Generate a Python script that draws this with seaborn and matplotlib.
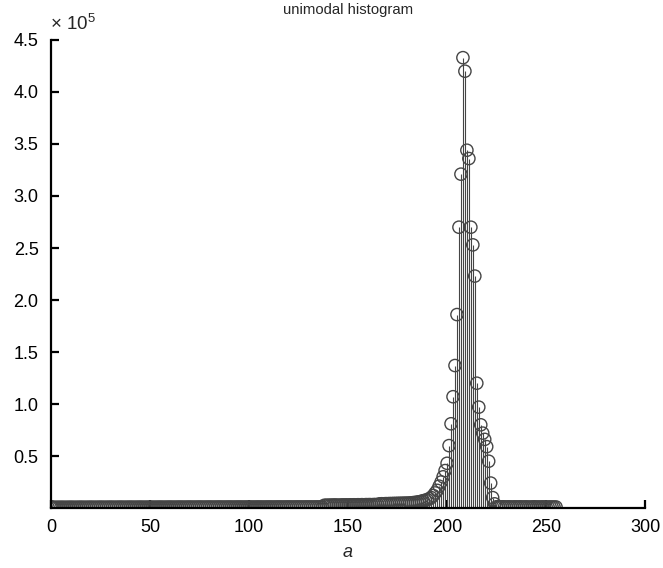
import numpy as np
import pandas as pd
import matplotlib
matplotlib.use("Agg")
import matplotlib.pyplot as plt
import seaborn as sns

# histogram bins (grey level a) and counts
levels = list(range(256))
counts = [
    1200, 700, 650, 720, 690, 740, 710, 680, 700, 730,
    760, 720, 690, 710, 740, 770, 730, 700, 720, 750,
    780, 740, 710, 730, 760, 790, 750, 720, 740, 770,
    800, 760, 730, 750, 780, 810, 770, 740, 760, 790,
    820, 780, 750, 770, 800, 830, 790, 760, 780, 810,
    840, 800, 770, 790, 820, 850, 810, 780, 800, 830,
    860, 820, 790, 810, 840, 870, 830, 800, 820, 850,
    880, 840, 810, 830, 860, 890, 850, 820, 840, 870,
    900, 860, 830, 850, 880, 910, 870, 840, 860, 890,
    920, 880, 850, 870, 900, 930, 890, 860, 880, 910,
    940, 900, 870, 890, 920, 950, 910, 880, 900, 930,
    960, 920, 890, 910, 940, 970, 930, 900, 920, 950,
    980, 940, 910, 930, 960, 990, 950, 920, 940, 970,
    1000, 960, 930, 950, 980, 1010, 970, 940,
    # 138-180
    2600, 2700, 2650, 2800, 2750, 2900, 2850, 2700, 2800, 2950,
    2900, 3000, 2850, 3050, 3000, 3100, 2950, 3150, 3100, 3200,
    3050, 3250, 3200, 3300, 3150, 3350, 3300, 3400,
    4000, 4100, 4050, 4200, 4150, 4300, 4250, 4400, 4350, 4500,
    4450, 4600, 4550, 4700, 4650,
    # 181-224
    4800, 5000, 5200, 5400, 5700, 6000, 6500, 7000, 7500, 8000,
    9000, 10000, 12000, 14500, 17000, 21000, 25000, 30000, 36000, 43000,
    60000, 81000, 107000, 137000, 186000, 270000, 321000, 433000, 420000, 344000,
    336000, 270000, 253000, 223000, 120000, 97000, 80000, 72000, 66000, 59000,
    45000, 24000, 10000, 4000,
    # 225-255
    1200, 1100, 1000, 1150, 1050, 950, 1100, 1000, 900, 1050,
    1000, 950, 1100, 900, 1000, 1050, 950, 900, 1000, 1100,
    950, 1000, 900, 1050, 1000, 950, 900, 1000, 950, 900,
    1000,
]

xticks = [0, 50, 100, 150, 200, 250, 300]
yticks = [50000, 100000, 150000, 200000, 250000, 300000, 350000, 400000, 450000]
ytick_labels = ["0.5", "1.0", "1.5", "2.0", "2.5", "3.0", "3.5", "4.0", "4.5"]

df = pd.DataFrame({"a": levels, "count": counts})

sns.set_style("ticks")
plt.rcParams["font.family"] = ["Liberation Sans", "DejaVu Sans"]
plt.rcParams["mathtext.fontset"] = "custom"
plt.rcParams["mathtext.rm"] = "Liberation Sans"

fig = plt.figure(figsize=(6.63, 5.68), dpi=100)
ax = fig.add_axes([0.077, 0.1056, 0.896, 0.824])

grey = "#454545"
ax.vlines(df["a"], 0, df["count"], color=grey, linewidth=0.8, zorder=1)
sns.scatterplot(data=df, x="a", y="count", ax=ax, marker="o", s=78,
                facecolors="none", edgecolor=grey, linewidth=1.0, zorder=2)

ax.set_xlim(0, 300)
ax.set_ylim(0, 450000)
ax.set_xticks(xticks)
ax.set_xticklabels([str(t) for t in xticks])
ax.set_yticks(yticks)
ax.set_yticklabels(ytick_labels)

sns.despine(ax=ax)
for side in ["left", "bottom"]:
    ax.spines[side].set_linewidth(1.6)
    ax.spines[side].set_color("black")
    ax.spines[side].set_zorder(3)
ax.tick_params(direction="in", length=6, width=1.6, labelsize=13, colors="black")
ax.tick_params(axis="x", pad=8)
ax.tick_params(axis="y", pad=9)

ax.set_title("unimodal histogram", fontsize=10.7, pad=19)
ax.set_xlabel("a", fontsize=13, style="italic", labelpad=6)
ax.set_ylabel("")
ax.text(-0.002, 1.021, "× 10$^5$", transform=ax.transAxes, fontsize=13.5,
        ha="left", va="baseline")

fig.savefig("out.png", dpi=100)
